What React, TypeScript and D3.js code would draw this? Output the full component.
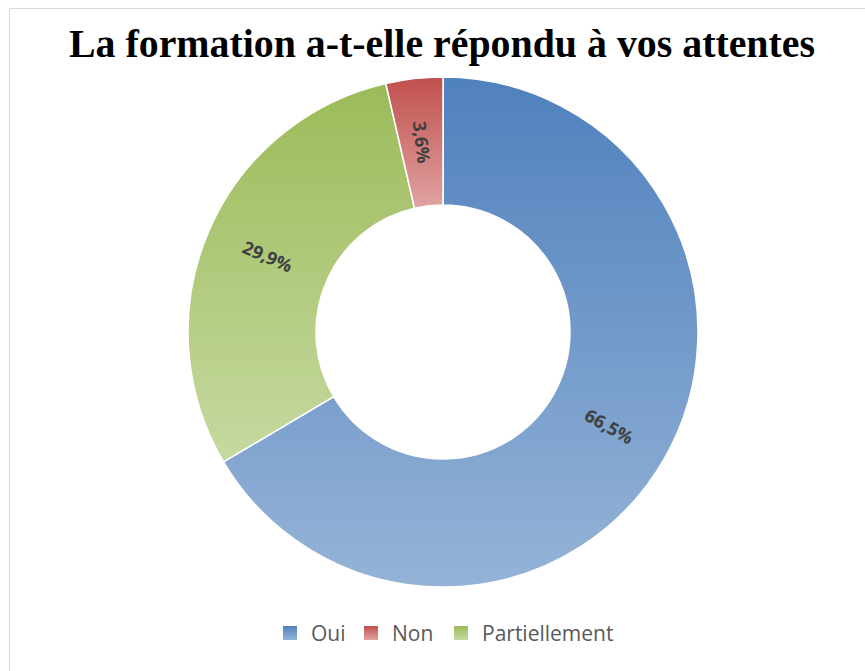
import React from "react";
import * as d3 from "d3";

const categories = ["Oui", "Partiellement", "Non"];
const values = [66.5, 29.9, 3.6];
const labels = ["66,5%", "29,9%", "3,6%"];
const legendOrder = ["Oui", "Non", "Partiellement"];
const colorTop: Record<string, string> = { Oui: "#4f81bd", Non: "#c0504d", Partiellement: "#9bbb59" };
const colorBottom: Record<string, string> = { Oui: "#95b3d7", Non: "#e0a3a2", Partiellement: "#c6d9a0" };

export default function App() {
  const W = 865, H = 671;
  const cx = 443, cy = 332, R = 255, r = 127;
  const pie = d3.pie<number>().sort(null).value((d) => d);
  const arcs = pie(values);
  const arc = d3.arc<d3.PieArcDatum<number>>().innerRadius(r).outerRadius(R);
  const legendX = [283, 364, 454];
  return (
    <svg width={W} height={H} style={{ position: "absolute", left: 0, top: 0 }}>
      <defs>
        {Object.keys(colorTop).map((k) => (
          <linearGradient key={k} id={"g-" + k} x1="0" y1="0" x2="0" y2="1">
            <stop offset="0" stopColor={colorTop[k]} />
            <stop offset="1" stopColor={colorBottom[k]} />
          </linearGradient>
        ))}
      </defs>
      <rect x={0} y={0} width={W} height={H} fill="#fff" />
      <rect x={9.5} y={8.5} width={W + 20} height={H + 20} fill="none" stroke="#d9d9d9" strokeWidth={1} />
      <text x={442} y={57} textAnchor="middle" fontFamily="'Liberation Serif', serif" fontWeight="bold" fontSize={40} textLength={746} lengthAdjust="spacingAndGlyphs" fill="#000">
        La formation a-t-elle répondu à vos attentes
      </text>
      <g transform={`translate(${cx},${cy})`}>
        {arcs.map((a, i) => (
          <path key={i} d={arc(a) || ""} fill={`url(#g-${categories[i]})`} stroke="#fff" strokeWidth={1.5} />
        ))}
        {arcs.map((a, i) => {
          const mid = (a.startAngle + a.endAngle) / 2;
          const rm = (R + r) / 2;
          const x = Math.sin(mid) * rm;
          const y = -Math.cos(mid) * rm;
          let rot = (mid * 180) / Math.PI - 90;
          while (rot > 90) rot -= 180;
          while (rot <= -90) rot += 180;
          return (
            <text key={"l" + i} transform={`translate(${x},${y}) rotate(${rot})`} textAnchor="middle" dy="0.35em" fontFamily="'Open Sans', sans-serif" fontWeight="bold" fontSize={18} fill="#404040">
              {labels[i]}
            </text>
          );
        })}
      </g>
      {legendX.map((lx, i) => (
        <g key={legendOrder[i]} transform={`translate(${lx},626)`}>
          <rect x={0} y={0} width={14} height={14} fill={`url(#g-${legendOrder[i]})`} />
          <text x={28} y={7} dy="0.36em" fontFamily="'Open Sans', sans-serif" fontSize={21} fill="#595959">{legendOrder[i]}</text>
        </g>
      ))}
    </svg>
  );
}
